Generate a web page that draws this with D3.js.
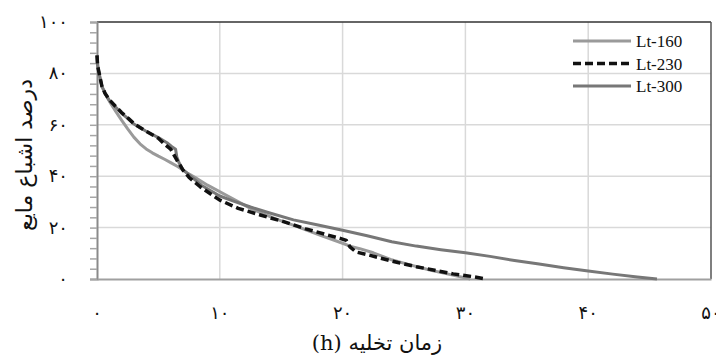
<!DOCTYPE html>
<html>
<head>
<meta charset="utf-8">
<script src="https://cdn.jsdelivr.net/npm/d3@7"></script>
<style>
  html, body { margin: 0; padding: 0; background: #fff; }
  svg { display: block; }
</style>
</head>
<body>
<svg id="chart" width="716" height="361"></svg>
<script>
// ---- data ----
const xTicks = [0, 10, 20, 30, 40, 50];
const yTicks = [0, 20, 40, 60, 80, 100];
const seriesNames = ["Lt-160", "Lt-230", "Lt-300"];

const lt160X = [0, 0.05, 0.15, 0.4, 0.65, 1.0, 1.5, 2.0, 2.5, 3.0, 3.5, 4.0, 4.5, 5.0, 5.5, 6.0, 6.6, 7.4, 8.0, 9.0, 10.5, 12.5, 14.5, 16.3, 18.2, 20.0, 20.6, 21.4, 22.5, 23.9, 25.5, 27.1, 28.8, 30.4];
const lt160Y = [87, 84, 80, 75, 72.3, 69.2, 65.4, 61.8, 58.4, 55.2, 52.6, 50.6, 49.1, 47.8, 46.6, 45.3, 43.7, 41.1, 39.5, 36.5, 32.7, 27.5, 23.5, 20.4, 17, 13.9, 12.8, 11.8, 10.2, 7.6, 5.5, 3.5, 1.7, 0];

const lt230X = [0, 0.05, 0.2, 0.4, 0.65, 1.0, 1.5, 2, 2.55, 3, 4, 5, 5.5, 6.0, 6.3, 6.6, 6.8, 7.0, 7.5, 8.4, 10, 11.5, 13.3, 15.2, 17, 18.5, 19.8, 20.3, 20.6, 21.1, 22, 23, 24.5, 26, 27.5, 29, 30.5, 31.7];
const lt230Y = [87, 83, 79.5, 75, 72.3, 69.8, 67.2, 64.8, 62.5, 60.5, 57.5, 54.8, 52.5, 50.5, 48, 45.5, 44, 42.4, 39.5, 35.9, 30.7, 27.5, 24.9, 22.3, 19.5, 17.5, 15.8, 15, 12.5, 10.5, 9.5, 8.2, 6.4, 4.8, 3.4, 2.0, 1.0, 0];

const lt300X = [0, 0.05, 0.2, 0.4, 0.65, 1.0, 1.5, 2.0, 2.55, 3.0, 4.0, 5.0, 5.7, 6.1, 6.4, 6.5, 6.7, 7.0, 7.5, 8.5, 10, 11, 12.5, 14, 16, 18, 20, 22, 24, 26, 28, 30, 32, 34, 36, 38, 40, 42, 44, 45.6];
const lt300Y = [87, 83, 79.5, 75, 72.3, 69.5, 67, 64.5, 62.3, 60.3, 57.5, 55, 53, 51.5, 50.5, 47.5, 45, 42.5, 40.5, 36.5, 32.3, 30.5, 28, 25.8, 23, 21, 19, 16.8, 14.5, 12.8, 11.4, 10.2, 8.8, 7.2, 5.8, 4.4, 3.1, 1.9, 0.8, 0];

const xLabel = "زمان تخلیه (h)";
const yLabel = "درصد اشباع مایع";

// ---- helpers ----
const faDigits = "۰۱۲۳۴۵۶۷۸۹";
const toFa = n => String(n).replace(/[0-9]/g, d => faDigits[+d]);

const svg = d3.select("#chart");
const m = { left: 97, right: 711, top: 22, bottom: 279 };

const x = d3.scaleLinear().domain([0, 50]).range([m.left, m.right]);
const y = d3.scaleLinear().domain([0, 100]).range([m.bottom, m.top]);

// gridlines
const grid = svg.append("g");
grid.selectAll("line.v").data(xTicks.filter(t => t > 0 && t < 50)).join("line")
  .attr("x1", d => x(d)).attr("x2", d => x(d))
  .attr("y1", m.top).attr("y2", m.bottom)
  .attr("stroke", "#d9d9d9").attr("stroke-width", 1.5);
grid.selectAll("line.h").data(yTicks.filter(t => t > 0 && t < 100)).join("line")
  .attr("x1", m.left).attr("x2", m.right)
  .attr("y1", d => y(d)).attr("y2", d => y(d))
  .attr("stroke", "#d9d9d9").attr("stroke-width", 1.5);

// frame: top and right
svg.append("line").attr("x1", m.left).attr("x2", m.right).attr("y1", m.top).attr("y2", m.top)
  .attr("stroke", "#333").attr("stroke-width", 1.5);
svg.append("line").attr("x1", m.right).attr("x2", m.right).attr("y1", m.top).attr("y2", m.bottom)
  .attr("stroke", "#555").attr("stroke-width", 1.5);

// y axis with minor ticks every 4
const yAxis = d3.axisLeft(y).tickValues(d3.range(0, 101, 4)).tickSize(7).tickFormat("");
const yg = svg.append("g").attr("transform", `translate(${m.left},0)`).call(yAxis);
yg.select(".domain").attr("stroke", "#8a8a8a").attr("stroke-width", 2);
yg.selectAll(".tick line").attr("stroke", "#a6a6a6").attr("stroke-width", 1.5);

// bottom axis line
const xAxis = d3.axisBottom(x).tickValues(xTicks).tickSize(0).tickFormat("");
const xg = svg.append("g").attr("transform", `translate(0,${m.bottom})`).call(xAxis);
xg.select(".domain").attr("stroke", "#a0a0a0").attr("stroke-width", 2);

// tick labels
svg.append("g").selectAll("text").data(yTicks).join("text")
  .attr("x", 68).attr("y", d => y(d) + 6)
  .attr("text-anchor", "end")
  .attr("font-family", "DejaVu Sans, sans-serif").attr("font-size", 18).attr("fill", "#111")
  .text(d => toFa(d));
svg.append("g").selectAll("text").data(xTicks).join("text")
  .attr("x", d => x(d)).attr("y", 319)
  .attr("text-anchor", "middle")
  .attr("font-family", "DejaVu Sans, sans-serif").attr("font-size", 18).attr("fill", "#111")
  .text(d => toFa(d));

// axis titles
svg.append("text").attr("x", 377).attr("y", 350)
  .attr("text-anchor", "middle").attr("direction", "rtl")
  .attr("font-family", "DejaVu Serif, DejaVu Sans, serif").attr("font-size", 21).attr("fill", "#111")
  .text(xLabel);
svg.append("text").attr("transform", "translate(32,155) rotate(-90)")
  .attr("text-anchor", "middle").attr("direction", "rtl")
  .attr("font-family", "DejaVu Sans, sans-serif").attr("font-size", 22).attr("fill", "#111")
  .text(yLabel);

// series
const series = [
  { name: seriesNames[0], xs: lt160X, ys: lt160Y, color: "#9a9a9a", dash: null, w: 3 },
  { name: seriesNames[2], xs: lt300X, ys: lt300Y, color: "#777777", dash: null, w: 3 },
  { name: seriesNames[1], xs: lt230X, ys: lt230Y, color: "#111111", dash: "8,4", w: 3.5 }
];
const line = d3.line().x(d => x(d[0])).y(d => y(d[1]));
series.forEach(s => {
  svg.append("path")
    .datum(s.xs.map((v, i) => [v, s.ys[i]]))
    .attr("d", line)
    .attr("fill", "none")
    .attr("stroke", s.color)
    .attr("stroke-width", s.w)
    .attr("stroke-dasharray", s.dash)
    .attr("stroke-linejoin", "round");
});

// legend
const legendItems = [
  { name: seriesNames[0], color: "#9a9a9a", dash: null, w: 3 },
  { name: seriesNames[1], color: "#111111", dash: "8,4", w: 3.5 },
  { name: seriesNames[2], color: "#777777", dash: null, w: 3 }
];
const lg = svg.append("g");
legendItems.forEach((it, i) => {
  const cy = 41 + i * 22.5;
  lg.append("line").attr("x1", 573).attr("x2", 631).attr("y1", cy).attr("y2", cy)
    .attr("stroke", it.color).attr("stroke-width", it.w).attr("stroke-dasharray", it.dash);
  lg.append("text").attr("x", 636).attr("y", cy + 6)
    .attr("font-family", "Liberation Serif, serif").attr("font-size", 17).attr("fill", "#111")
    .text(it.name);
});
</script>
</body>
</html>
